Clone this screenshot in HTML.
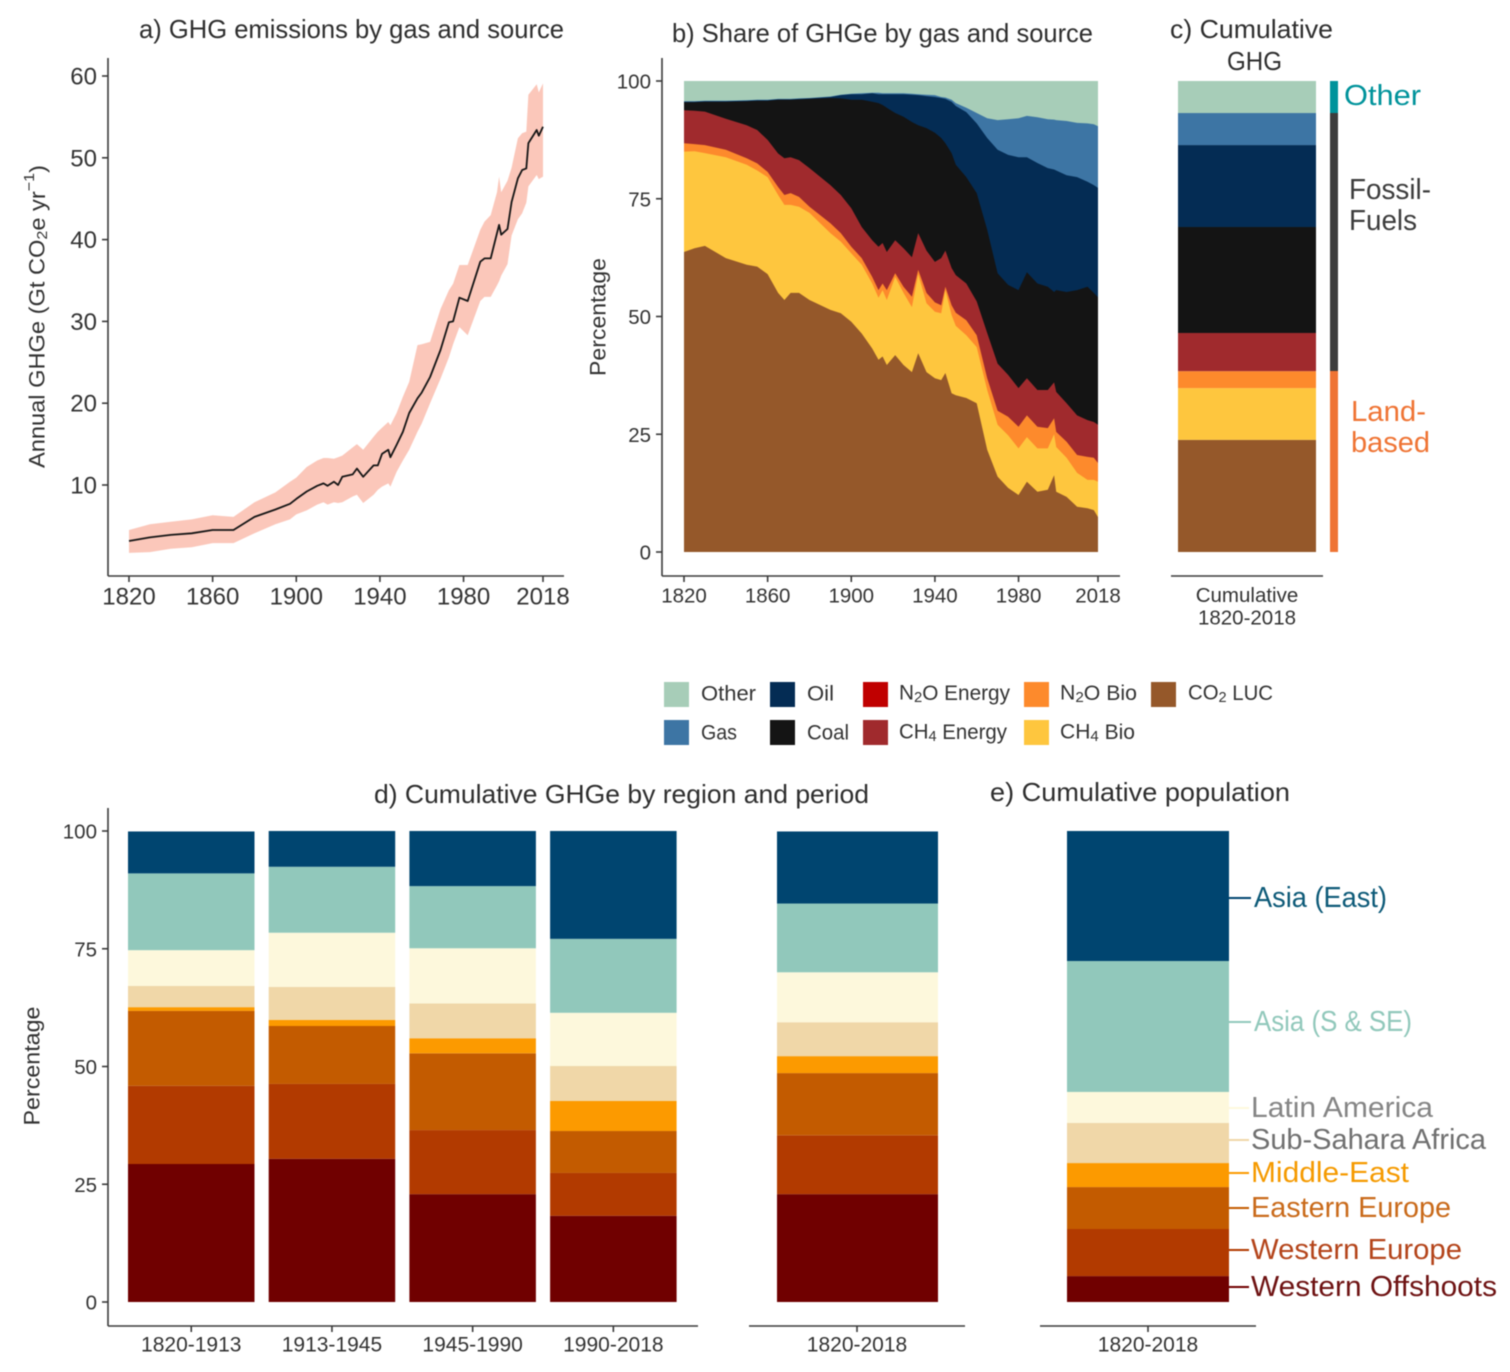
<!DOCTYPE html>
<html lang="en">
<head>
<meta charset="utf-8">
<title>GHG emissions by gas, source and region</title>
<style>
html,body{margin:0;padding:0;background:#fff;}
svg{display:block;filter:blur(0.45px);}
text{font-family:"Liberation Sans",sans-serif;fill:#333;dominant-baseline:central;}
.t{font-size:26px;fill:#2e2e2e;}
.axt{font-size:22px;fill:#333;}
.lg{font-size:21px;fill:#333;}
.lab{font-size:29px;}
sub{font-size:70%;}
</style>
</head>
<body>
<svg id="chart" xmlns="http://www.w3.org/2000/svg" width="1510" height="1372" viewBox="0 0 1510 1372">
  <rect width="1510" height="1372" fill="#fff"/>

  <text class="t" x="139" y="29" textLength="425" lengthAdjust="spacingAndGlyphs">a) GHG emissions by gas and source</text>
  <text class="t" x="672" y="33" textLength="421" lengthAdjust="spacingAndGlyphs">b) Share of GHGe by gas and source</text>
  <text class="t" x="1170" y="29" textLength="163" lengthAdjust="spacingAndGlyphs">c) Cumulative</text>
  <text class="t" x="1227" y="61" textLength="55" lengthAdjust="spacingAndGlyphs">GHG</text>
  <text class="t" x="374" y="794" textLength="495" lengthAdjust="spacingAndGlyphs">d) Cumulative GHGe by region and period</text>
  <text class="t" x="990" y="792" textLength="300" lengthAdjust="spacingAndGlyphs">e) Cumulative population</text>

  <text class="axt" transform="translate(37,316.5) rotate(-90)" text-anchor="middle" textLength="303" lengthAdjust="spacingAndGlyphs">Annual GHGe (Gt CO<tspan font-size="15" dy="5">2</tspan><tspan dy="-5">e yr</tspan><tspan font-size="15" dy="-8">−1</tspan><tspan dy="8">)</tspan></text>
  <text class="axt" transform="translate(598,317) rotate(-90)" text-anchor="middle" textLength="118" lengthAdjust="spacingAndGlyphs">Percentage</text>
  <text class="axt" transform="translate(32,1066) rotate(-90)" text-anchor="middle" textLength="119" lengthAdjust="spacingAndGlyphs">Percentage</text>

  <g id="panelA"></g>
  <g id="panelB"></g>
  <g id="panelC"></g>
  <g id="panelD"></g>
  <g id="panelE"></g>

  <rect x="1330" y="81" width="8" height="32" fill="#00939b"/>
  <rect x="1330" y="113" width="8" height="258" fill="#3c3c3c"/>
  <rect x="1330" y="371" width="8" height="181" fill="#ef7434"/>
  <text class="lab" style="fill:#00939b" x="1344" y="96" textLength="77" lengthAdjust="spacingAndGlyphs">Other</text>
  <text class="lab" style="fill:#3c3c3c" x="1349" y="190" textLength="82" lengthAdjust="spacingAndGlyphs">Fossil-</text>
  <text class="lab" style="fill:#3c3c3c" x="1349" y="221" textLength="68" lengthAdjust="spacingAndGlyphs">Fuels</text>
  <text class="lab" style="fill:#ef7434" x="1351" y="412" textLength="75" lengthAdjust="spacingAndGlyphs">Land-</text>
  <text class="lab" style="fill:#ef7434" x="1351" y="443" textLength="79" lengthAdjust="spacingAndGlyphs">based</text>

  <g>
    <g><rect x="664" y="682" width="25" height="25" fill="#a7cdb8"/><text class="lg" x="701" y="694" textLength="55" lengthAdjust="spacingAndGlyphs">Other</text></g>
    <g><rect x="770" y="682" width="25" height="25" fill="#042c54"/><text class="lg" x="807" y="694" textLength="27" lengthAdjust="spacingAndGlyphs">Oil</text></g>
    <g><rect x="863" y="682" width="25" height="25" fill="#c00000"/><text class="lg" x="899" y="693" textLength="111" lengthAdjust="spacingAndGlyphs">N<tspan font-size="15" dy="4">2</tspan><tspan dy="-4">O Energy</tspan></text></g>
    <g><rect x="1024" y="682" width="25" height="25" fill="#fd8a2c"/><text class="lg" x="1060" y="693" textLength="77" lengthAdjust="spacingAndGlyphs">N<tspan font-size="15" dy="4">2</tspan><tspan dy="-4">O Bio</tspan></text></g>
    <g><rect x="1151" y="682" width="25" height="25" fill="#95582a"/><text class="lg" x="1188" y="693" textLength="85" lengthAdjust="spacingAndGlyphs">CO<tspan font-size="15" dy="4">2</tspan><tspan dy="-4"> LUC</tspan></text></g>
    <g><rect x="664" y="720" width="25" height="25" fill="#3d75a4"/><text class="lg" x="701" y="733" textLength="36" lengthAdjust="spacingAndGlyphs">Gas</text></g>
    <g><rect x="770" y="720" width="25" height="25" fill="#141414"/><text class="lg" x="807" y="733" textLength="42" lengthAdjust="spacingAndGlyphs">Coal</text></g>
    <g><rect x="863" y="720" width="25" height="25" fill="#a02a2d"/><text class="lg" x="899" y="732" textLength="108" lengthAdjust="spacingAndGlyphs">CH<tspan font-size="15" dy="4">4</tspan><tspan dy="-4"> Energy</tspan></text></g>
    <g><rect x="1024" y="720" width="25" height="25" fill="#fec63e"/><text class="lg" x="1060" y="732" textLength="75" lengthAdjust="spacingAndGlyphs">CH<tspan font-size="15" dy="4">4</tspan><tspan dy="-4"> Bio</tspan></text></g>
  </g>

  <g>
    <line x1="1229" x2="1251" y1="898" y2="898" stroke="#004570" stroke-width="2"/>
    <text class="lab" style="fill:#0d5a78" x="1254" y="898" textLength="133" lengthAdjust="spacingAndGlyphs">Asia (East)</text>
    <line x1="1229" x2="1251" y1="1022" y2="1022" stroke="#91c8bb" stroke-width="2"/>
    <text class="lab" style="fill:#91c8bb" x="1254" y="1022" textLength="158" lengthAdjust="spacingAndGlyphs">Asia (S &amp; SE)</text>
    <line x1="1229" x2="1249" y1="1108" y2="1108" stroke="#fdf8dc" stroke-width="2"/>
    <text class="lab" style="fill:#858585" x="1251" y="1108" textLength="182" lengthAdjust="spacingAndGlyphs">Latin America</text>
    <line x1="1229" x2="1249" y1="1140" y2="1140" stroke="#f0d7a8" stroke-width="2"/>
    <text class="lab" style="fill:#707070" x="1251" y="1140" textLength="235" lengthAdjust="spacingAndGlyphs">Sub-Sahara Africa</text>
    <line x1="1229" x2="1249" y1="1173" y2="1173" stroke="#fc9a00" stroke-width="2"/>
    <text class="lab" style="fill:#f59a00" x="1251" y="1173" textLength="158" lengthAdjust="spacingAndGlyphs">Middle-East</text>
    <line x1="1229" x2="1249" y1="1208" y2="1208" stroke="#c35b00" stroke-width="2"/>
    <text class="lab" style="fill:#c96a1a" x="1251" y="1208" textLength="200" lengthAdjust="spacingAndGlyphs">Eastern Europe</text>
    <line x1="1229" x2="1249" y1="1250" y2="1250" stroke="#b23a00" stroke-width="2"/>
    <text class="lab" style="fill:#b4441a" x="1251" y="1250" textLength="211" lengthAdjust="spacingAndGlyphs">Western Europe</text>
    <line x1="1229" x2="1249" y1="1287" y2="1287" stroke="#700000" stroke-width="2"/>
    <text class="lab" style="fill:#6e1212" x="1251" y="1287" textLength="246" lengthAdjust="spacingAndGlyphs">Western Offshoots</text>
  </g>
</svg>

<script>
/* ---------- Panel a data ---------- */
const yearsA = [1820,1830,1840,1850,1860,1870,1880,1890,1897,1900,1905,1910,1913,1915,1918,1920,1922,1927,1929,1932,1937,1939,1941,1944,1945,1948,1951,1954,1958,1960,1964,1969,1973,1975,1978,1982,1988,1990,1993,1996,1997,1998,2001,2003,2006,2008,2010,2011,2015,2016,2018];
const emissionsMedian = [3.15,3.6,3.9,4.1,4.5,4.5,6.1,7,7.7,8.3,9.2,9.9,10.2,9.9,10.4,10,11,11.3,12,11,12.4,12.4,13.8,14.3,13.4,14.9,16.5,18.8,20.6,21.3,23.2,26.5,29.9,30,32.9,32.5,37.3,37.7,37.7,40.8,41.8,40.6,41.3,44.6,47.5,48.5,48.7,51.8,53.4,52.7,53.8];
const emissionsUpper = [4.5,5.2,5.5,5.8,6.3,6.1,7.9,9.1,10.4,10.9,12.2,13,13.3,13.3,13.2,13.4,13.6,14.6,15,14.3,15.9,16.5,17,17.7,17.3,18.8,20.8,22.6,27.1,27.2,27.5,31.5,33.8,34.6,36.9,36.9,41.2,42.2,43,45.8,47.7,45.8,47.2,48.8,52.4,53,53.2,57.7,59,58,59.1];
const emissionsLower = [1.7,1.8,2.2,2.4,2.9,2.9,4.1,5.2,5.8,6.4,6.9,7.6,7.9,7.6,7.9,7.8,7.9,8.6,8.8,7.8,8.8,9.4,9.8,10.2,9.8,11.6,13,14.3,16.5,17.5,20,23,25.6,27.2,29.3,28.3,32.5,33,33,34.4,34.9,35.6,37,40.5,42.5,43.2,44.5,46.5,47.9,47.4,47.7];
const xTicksA = [1820,1860,1900,1940,1980,2018];
const yTicksA = [10,20,30,40,50,60];

/* ---------- Panel b data: upper edge of each stacked band, percent ---------- */
const yearsB = [1820,1825,1830,1840,1850,1855,1860,1865,1868,1871,1875,1880,1890,1895,1900,1905,1910,1913,1915,1917,1921,1925,1929,1932,1936,1940,1943,1945,1948,1950,1955,1960,1965,1970,1975,1980,1984,1989,1994,1997,1998,2003,2008,2013,2016,2018];
const co2LucTop = [63.7,64.5,65,62.4,61,60.6,59,55,53.5,55,55,53.5,51.4,50.7,48.9,46.4,43.2,40.8,41.5,39.7,41.8,39.7,38.2,42.2,38.2,36.9,36.5,38,33.7,33.3,32.7,31.6,21.7,16,13.6,12.1,14.9,12.8,13.2,16.3,12.8,11.7,9.6,9.3,8.9,7.4];
const ch4BioTop = [85,85.1,84.7,83.8,82.2,81,79.6,75.8,73.7,73.7,73.3,72,67.7,65.9,63.4,61,57,54,55.6,53.5,58.4,55,52,59,52.8,51,50.7,55.6,50.3,48,46,43.5,34.4,27,24.8,22,24.4,22,22,25,22.3,20,16.8,15.3,15.3,14.9];
const n2oBioTop = [86.8,86.6,86.4,85.4,83.6,82.5,80.7,77.5,75.8,76.2,75.4,73.3,69.8,67.7,64.8,62.4,58.4,55.6,57,55.6,59.2,56.3,54.2,59.9,55,53,52.4,56.3,52.4,50.8,49.2,46,36.9,30,28.7,26.6,29,26.6,26.3,28.4,25.5,23.4,20.6,20.2,20,18.9];
const ch4EnergyTop = [93.8,93.7,93.5,92,90.6,89.6,87.5,84.6,83.6,83.8,83.2,81.5,77.9,75.8,73,69,66.2,64.8,65.6,63.7,66.2,64.5,62.6,67.7,64,61.6,62.4,64,60.3,58.8,57,53.2,46.5,40,37.6,34.8,36.9,34.4,34.4,36,34,31.6,29,28,27.6,27];
const coalTop = [95.5,95.5,95.6,95.6,95.7,95.8,95.8,96,96,96,96.1,96.2,96.4,96.3,96,96,95.6,95.3,94.9,94.3,93.2,92.4,91.3,90.6,90,89,87.9,86.8,84.7,82.2,79.6,76.2,68.4,59.2,56.7,55.6,59.4,57,56.3,55.2,55.6,55.2,55.6,56.3,55,54.1];
const oilTop = [95.6,95.6,95.7,95.7,95.8,95.9,95.9,96.1,96.1,96.1,96.2,96.3,96.6,97,97.2,97.2,97.4,97.2,97.2,97.2,97.2,97.2,97.1,97,96.8,96.6,96.4,96.2,95.6,94.7,93.4,91,87.9,85.4,84.3,83.8,83.8,82.6,81.5,81.2,81,80,79.6,78.6,77.9,77.3];
const gasTop = [95.7,95.7,95.8,95.8,95.9,96,96,96.2,96.2,96.2,96.3,96.4,96.7,97.1,97.3,97.4,97.5,97.5,97.4,97.4,97.4,97.4,97.3,97.2,97.1,97,96.6,96.5,96,95.3,94.3,93.2,92.1,91.7,91.9,92.1,92.6,92.3,91.9,91.8,91.7,91.5,91.1,91,90.8,90.4];
const otherYears = [1820,2018];
const otherTop = [100,100];
const xTicksB = [1820,1860,1900,1940,1980,2018];
const yTicksPct = [0,25,50,75,100];

/* ---------- Panel c data: bottom-to-top shares ---------- */
const gasNames = ['CO2 LUC','CH4 Bio','N2O Bio','CH4 Energy','Coal','Oil','Gas','Other'];
const gasShares = [23.8,11,3.6,8.1,22.5,17.4,6.8,6.8];
const cumulativeLabels = ['Cumulative','1820-2018'];

/* ---------- Panels d & e data: bottom-to-top shares ---------- */
const regionNames = ['Western Offshoots','Western Europe','Eastern Europe','Middle-East','Sub-Sahara Africa','Latin America','Asia (S & SE)','Asia (East)'];
const periodLabels = ['1820-1913','1913-1945','1945-1990','1990-2018'];
const period1 = [29.3,16.6,15.9,0.8,4.5,7.6,16.3,8.9];
const period2 = [30.4,15.9,12.3,1.3,7,11.5,14,7.6];
const period3 = [22.9,13.6,16.3,3.2,7.4,11.7,13.2,11.7];
const period4 = [18.3,9.1,8.9,6.4,7.4,11.3,15.7,22.9];
const totalGhg = [22.9,12.5,13.2,3.6,7.2,10.6,14.6,15.3];
const totalPopulation = [5.5,10,8.9,5.1,8.5,6.6,27.8,27.6];
const totalLabel = '1820-2018';

/* ---------- Drawing ---------- */
const NS = 'http://www.w3.org/2000/svg';
const AXIS = '#3a3a3a';
function make(tag, parent, attrs) {
  const el = document.createElementNS(NS, tag);
  for (const k in attrs) el.setAttribute(k, attrs[k]);
  parent.appendChild(el);
  return el;
}
function slug(s) { return String(s).toLowerCase().replace(/[^a-z0-9]+/g, '-').replace(/^-|-$/g, ''); }
function axisLine(parent, name, x1, y1, x2, y2) {
  const el = make('line', parent, {x1, y1, x2, y2, stroke: AXIS, 'stroke-width': 1.6});
  
  
}
function label(parent, name, str, x, y, size, anchor) {
  const el = make('text', parent, {x, y, 'font-size': size, 'text-anchor': anchor});
  el.textContent = str;
  
  
}
function xTick(parent, name, x, axisY, str, labelY, size) {
  axisLine(parent, name + '-tick', x, axisY, x, axisY + 6);
  label(parent, name + '-label', str, x, labelY, size, 'middle');
}
function yTick(parent, name, y, axisX, str, size) {
  axisLine(parent, name + '-tick', axisX - 6, y, axisX, y);
  label(parent, name + '-label', str, axisX - 11, y + 1, size, 'end');
}
const pathOf = pts => 'M' + pts.map(p => p[0].toFixed(1) + ',' + p[1].toFixed(1)).join('L');

/* Panel a */
(function () {
  const g = document.getElementById('panelA');
  const x = yr => 129 + (yr - 1820) * 2.0909;
  const y = v => 485 - (v - 10) * 8.18;
  const upper = yearsA.map((yr, i) => [x(yr), y(emissionsUpper[i])]);
  const lower = yearsA.map((yr, i) => [x(yr), y(emissionsLower[i])]).reverse();
  const band = make('path', g, {d: pathOf(upper.concat(lower)) + 'Z', fill: '#fbc7ba'});
  
  
  const line = make('path', g, {d: pathOf(yearsA.map((yr, i) => [x(yr), y(emissionsMedian[i])])), fill: 'none', stroke: '#161616', 'stroke-width': 1.8, 'stroke-linejoin': 'round'});
  
  
  axisLine(g, 'panel-a-y-axis', 108, 58, 108, 576);
  axisLine(g, 'panel-a-x-axis', 108, 576, 564, 576);
  xTicksA.forEach(t => xTick(g, 'panel-a-x-' + t, x(t), 576, t, 597, 24));
  yTicksA.forEach(t => yTick(g, 'panel-a-y-' + t, y(t), 108, t, 24));
})();

/* Panel b */
(function () {
  const g = document.getElementById('panelB');
  const x = yr => 684 + (yr - 1820) * 2.0909;
  const y = v => 552 - v * 4.71;
  const layers = [
    ['other', '#a7cdb8', otherYears, otherTop],
    ['gas', '#3d75a4', yearsB, gasTop],
    ['oil', '#042c54', yearsB, oilTop],
    ['coal', '#141414', yearsB, coalTop],
    ['ch4-energy', '#a02a2d', yearsB, ch4EnergyTop],
    ['n2o-bio', '#fd8a2c', yearsB, n2oBioTop],
    ['ch4-bio', '#fec63e', yearsB, ch4BioTop],
    ['co2-luc', '#95582a', yearsB, co2LucTop]
  ];
  layers.forEach(l => {
    const pts = l[2].map((yr, i) => [x(yr), y(l[3][i])]);
    pts.unshift([x(1820), y(0)]);
    pts.push([x(2018), y(0)]);
    const area = make('path', g, {d: pathOf(pts) + 'Z', fill: l[1]});
    
    
  });
  axisLine(g, 'panel-b-y-axis', 662, 58, 662, 576);
  axisLine(g, 'panel-b-x-axis', 662, 576, 1120, 576);
  xTicksB.forEach(t => xTick(g, 'panel-b-x-' + t, x(t), 576, t, 596, 20.5));
  yTicksPct.forEach(t => yTick(g, 'panel-b-y-' + t, y(t), 662, t, 20.5));
})();

/* Stacked bar helper shared by c, d, e */
const gasColors = ['#95582a','#fec63e','#fd8a2c','#a02a2d','#141414','#042c54','#3d75a4','#a7cdb8'];
const regionColors = ['#700000','#b23a00','#c35b00','#fc9a00','#f0d7a8','#fdf8dc','#91c8bb','#004570'];
function stack(parent, barName, values, names, colors, left, width) {
  const y = v => 1302 - v * 4.71;
  let cum = 0;
  values.forEach((v, i) => {
    const top = y(cum + v), bottom = y(cum);
    const seg = make('rect', parent, {x: left, y: top, width, height: bottom - top, fill: colors[i]});
    
    
    cum += v;
  });
}

/* Panel c */
(function () {
  const g = document.getElementById('panelC');
  const y = v => 552 - v * 4.71;
  let cum = 0;
  gasShares.forEach((v, i) => {
    const seg = make('rect', g, {x: 1178, y: y(cum + v), width: 138, height: v * 4.71, fill: gasColors[i]});
    
    
    cum += v;
  });
  axisLine(g, 'panel-c-x-axis', 1171, 576, 1323, 576);
  cumulativeLabels.forEach((s, i) => label(g, 'panel-c-x-label-' + (i + 1), s, 1247, 595.5 + i * 22.5, 20.5, 'middle'));
})();

/* Panel d */
(function () {
  const g = document.getElementById('panelD');
  const y = v => 1302 - v * 4.71;
  const band = i => 128 + i * 140.7;
  [period1, period2, period3, period4].forEach((vals, i) => {
    stack(g, 'bar-' + periodLabels[i], vals, regionNames, regionColors, band(i), 126.5);
    xTick(g, 'panel-d-x-' + periodLabels[i], band(i) + 63.25, 1326, periodLabels[i], 1345, 21);
  });
  stack(g, 'bar-total-ghg', totalGhg, regionNames, regionColors, 777, 161);
  axisLine(g, 'panel-d-y-axis', 108, 808, 108, 1326);
  axisLine(g, 'panel-d-x-axis', 108, 1326, 698, 1326);
  axisLine(g, 'panel-d-total-x-axis', 749, 1326, 965, 1326);
  xTick(g, 'panel-d-total-x', 857, 1326, totalLabel, 1345, 21);
  yTicksPct.forEach(t => yTick(g, 'panel-d-y-' + t, y(t), 108, t, 20.5));
})();

/* Panel e */
(function () {
  const g = document.getElementById('panelE');
  stack(g, 'bar-population', totalPopulation, regionNames, regionColors, 1067, 162);
  axisLine(g, 'panel-e-x-axis', 1040, 1326, 1256, 1326);
  xTick(g, 'panel-e-x', 1148, 1326, totalLabel, 1345, 21);
})();
</script>
</body>
</html>
